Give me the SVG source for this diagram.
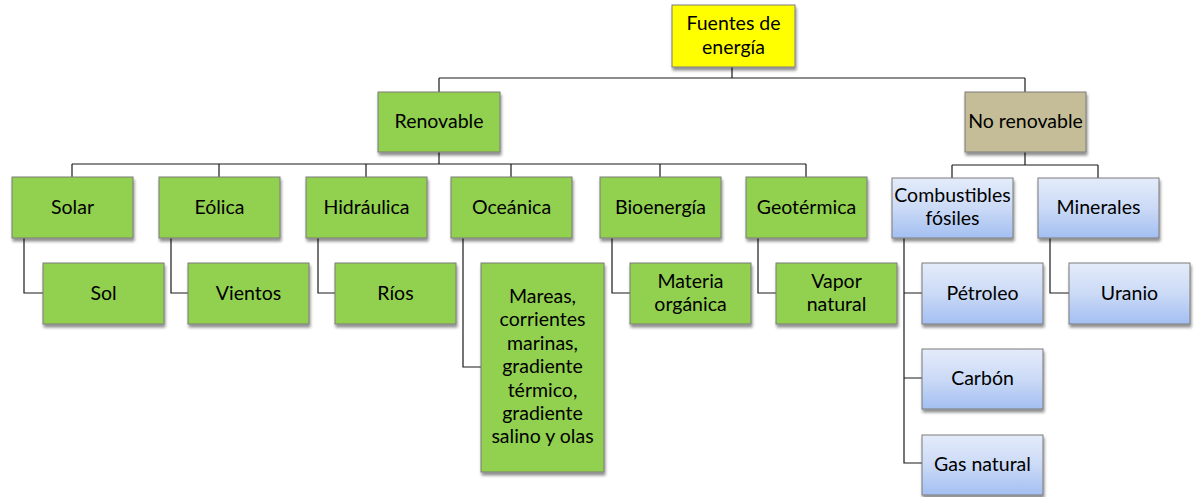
<svg xmlns="http://www.w3.org/2000/svg" width="1195" height="497" viewBox="0 0 1195 497">
<defs>
<filter id="sh" x="-10%" y="-10%" width="125%" height="130%">
<feGaussianBlur in="SourceAlpha" stdDeviation="1.5"/>
<feOffset dx="1" dy="2.5" result="b"/>
<feComponentTransfer><feFuncA type="linear" slope="0.45"/></feComponentTransfer>
<feMerge><feMergeNode/><feMergeNode in="SourceGraphic"/></feMerge>
</filter>
<linearGradient id="blue" x1="0" y1="0" x2="0" y2="1">
<stop offset="0" stop-color="#e4ecfa"/>
<stop offset="0.5" stop-color="#cbdaf6"/>
<stop offset="1" stop-color="#a3bff2"/>
</linearGradient>
<style>
.box{stroke:#7a7a7a;stroke-width:1;filter:url(#sh)}
.g{fill:#92d050}
.y{fill:#ffff00}
.t{fill:#c4bd97}
.b{fill:url(#blue)}
text{font-family:Lato,"Open Sans","Liberation Sans",sans-serif;font-size:19.5px;fill:#000;text-anchor:middle}
.c{fill:none;stroke:#1a1a1a;stroke-width:1.2}
</style>
</defs>
<g id="connectors" class="c">
<path d="M732 67V78M439 78H1025M439 78V92M1025 78V92"/>
<path d="M439 152V164M72 164H806M72 164V177M219 164V177M366 164V177M511 164V177M660 164V177M806 164V177"/>
<path d="M24 238V293H43M171 238V293H188M318 238V293H335M463 238V367H481M612 238V293H630M758 238V293H776"/>
<path d="M1025 152V165M952 165H1098M952 165V178M1098 165V178"/>
<path d="M904 238V463H922M904 293H922M904 378H922M1050 238V293H1069"/>
</g>
<g id="n-fuentes"><rect class="box y" x="672" y="5" width="123" height="62"/><text x="733.5" y="30">Fuentes de</text><text x="733.5" y="54">energía</text></g>
<g id="n-renovable"><rect class="box g" x="378" y="92" width="122" height="60"/><text x="439" y="128">Renovable</text></g>
<g id="n-norenovable"><rect class="box t" x="965" y="92" width="121" height="60"/><text x="1025.5" y="128">No renovable</text></g>
<g id="n-solar"><rect class="box g" x="12" y="177" width="121" height="61"/><text x="72.5" y="214">Solar</text></g>
<g id="n-eolica"><rect class="box g" x="159" y="177" width="121" height="61"/><text x="219.5" y="214">Eólica</text></g>
<g id="n-hidraulica"><rect class="box g" x="306" y="177" width="121" height="61"/><text x="366.5" y="214">Hidráulica</text></g>
<g id="n-oceanica"><rect class="box g" x="451" y="177" width="121" height="61"/><text x="511.5" y="214">Oceánica</text></g>
<g id="n-bioenergia"><rect class="box g" x="600" y="177" width="121" height="61"/><text x="660.5" y="214">Bioenergía</text></g>
<g id="n-geotermica"><rect class="box g" x="746" y="177" width="121" height="61"/><text x="806.5" y="214">Geotérmica</text></g>
<g id="n-sol"><rect class="box g" x="43" y="263" width="121" height="61"/><text x="103.5" y="300">Sol</text></g>
<g id="n-vientos"><rect class="box g" x="188" y="263" width="121" height="61"/><text x="248.5" y="300">Vientos</text></g>
<g id="n-rios"><rect class="box g" x="335" y="263" width="121" height="61"/><text x="395.5" y="300">Ríos</text></g>
<g id="n-mareas"><rect class="box g" x="481" y="263" width="123" height="209"/>
<text x="542.5" y="303">Mareas,</text><text x="542.5" y="326.4">corrientes</text><text x="542.5" y="349.8">marinas,</text><text x="542.5" y="373.2">gradiente</text><text x="542.5" y="396.6">térmico,</text><text x="542.5" y="420">gradiente</text><text x="542.5" y="443.4">salino y olas</text></g>
<g id="n-materia"><rect class="box g" x="630" y="263" width="121" height="61"/><text x="690.5" y="288">Materia</text><text x="690.5" y="311">orgánica</text></g>
<g id="n-vapor"><rect class="box g" x="776" y="263" width="121" height="61"/><text x="836.5" y="288">Vapor</text><text x="836.5" y="311">natural</text></g>
<g id="n-combustibles"><rect class="box b" x="892" y="178" width="121" height="60"/><text x="952.5" y="202">Combustibles</text><text x="952.5" y="225">fósiles</text></g>
<g id="n-minerales"><rect class="box b" x="1038" y="178" width="121" height="60"/><text x="1098.5" y="214">Minerales</text></g>
<g id="n-petroleo"><rect class="box b" x="922" y="263" width="121" height="61"/><text x="982.5" y="300">Pétroleo</text></g>
<g id="n-carbon"><rect class="box b" x="922" y="349" width="121" height="60"/><text x="982.5" y="385">Carbón</text></g>
<g id="n-gas"><rect class="box b" x="922" y="435" width="121" height="60"/><text x="982.5" y="471">Gas natural</text></g>
<g id="n-uranio"><rect class="box b" x="1069" y="263" width="121" height="61"/><text x="1129.5" y="300">Uranio</text></g>
</svg>
